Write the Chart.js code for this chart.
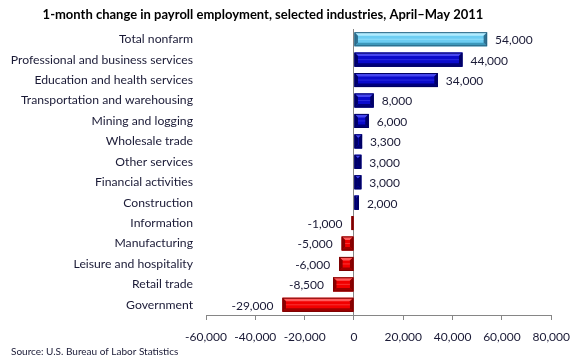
<!DOCTYPE html>
<html>
<head>
<meta charset="utf-8">
<script src="https://cdn.jsdelivr.net/npm/chart.js@4/dist/chart.umd.min.js"></script>
<style>
  html, body { margin: 0; padding: 0; background: #ffffff; }
  #wrap { width: 580px; height: 360px; position: relative; }
</style>
</head>
<body>
<div id="wrap"><canvas id="c" width="580" height="360"></canvas></div>
<script>
// ---- Data ----
const categories = [
  "Total nonfarm",
  "Professional and business services",
  "Education and health services",
  "Transportation and warehousing",
  "Mining and logging",
  "Wholesale trade",
  "Other services",
  "Financial activities",
  "Construction",
  "Information",
  "Manufacturing",
  "Leisure and hospitality",
  "Retail trade",
  "Government"
];
const changes = [54000, 44000, 34000, 8000, 6000, 3300, 3000, 3000, 2000, -1000, -5000, -6000, -8500, -29000];
const xTickValues = [-60000, -40000, -20000, 0, 20000, 40000, 60000, 80000];
const titleText = "1-month change in payroll employment, selected industries, April\u2013May 2011";
const sourceText = "Source: U.S. Bureau of Labor Statistics";

// ---- Styles ----
const FONT = "Lato, 'Liberation Sans', sans-serif";
const TEXT = "#1a1a36";
const AXIS = "#868686";
const palettes = {
  total: { main: "#6ccdf2", top: "#b2ecff", bottom: "#3b98bb", end: "#2e7192", line: "#2a6482" },
  pos:   { main: "#0b0bcc", top: "#4747ee", bottom: "#00007c", end: "#00006a", line: "#000060" },
  neg:   { main: "#f20000", top: "#ff5c5c", bottom: "#a00000", end: "#8a0000", line: "#7a0000" }
};
function paletteFor(i) {
  if (i === 0) return palettes.total;
  return changes[i] >= 0 ? palettes.pos : palettes.neg;
}
const fmt = v => Number(v).toLocaleString("en-US");

// Bevel decoration drawn over each bar using the bar element geometry
const bevelPlugin = {
  id: "bevel",
  afterDatasetsDraw(chart) {
    const ctx = chart.ctx;
    const meta = chart.getDatasetMeta(0);
    meta.data.forEach((el, i) => {
      const p = paletteFor(i);
      const l = Math.min(el.x, el.base), r = Math.max(el.x, el.base);
      const t = el.y - el.height / 2, b = el.y + el.height / 2;
      const bw = Math.min(3.5, (r - l) / 2, (b - t) / 2);
      const poly = (pts, col) => {
        ctx.beginPath();
        ctx.moveTo(pts[0][0], pts[0][1]);
        for (let k = 1; k < pts.length; k++) ctx.lineTo(pts[k][0], pts[k][1]);
        ctx.closePath();
        ctx.fillStyle = col;
        ctx.fill();
      };
      ctx.save();
      poly([[l, t], [r, t], [r - bw, t + bw], [l + bw, t + bw]], p.top);
      poly([[l, b], [r, b], [r - bw, b - bw], [l + bw, b - bw]], p.bottom);
      poly([[l, t], [l + bw, t + bw], [l + bw, b - bw], [l, b]], p.end);
      poly([[r, t], [r - bw, t + bw], [r - bw, b - bw], [r, b]], p.end);
      if (r - l > 2 * bw + 2) {
        ctx.fillStyle = p.top;
        ctx.globalAlpha = 0.55;
        ctx.fillRect(l + bw, el.y - 0.5, r - l - 2 * bw, 1);
        ctx.globalAlpha = 1;
      }
      ctx.strokeStyle = p.line;
      ctx.lineWidth = 1;
      ctx.strokeRect(l + 0.5, t + 0.5, r - l - 1, b - t - 1);
      ctx.restore();
    });
  }
};

// Value labels beside each bar
const valueLabelPlugin = {
  id: "valueLabels",
  afterDatasetsDraw(chart) {
    const ctx = chart.ctx;
    const meta = chart.getDatasetMeta(0);
    ctx.save();
    ctx.font = "12px " + FONT;
    ctx.fillStyle = TEXT;
    ctx.textBaseline = "middle";
    meta.data.forEach((el, i) => {
      const v = changes[i];
      if (v >= 0) {
        ctx.textAlign = "left";
        ctx.fillText(fmt(v), el.x + 8, el.y + 1);
      } else {
        ctx.textAlign = "right";
        ctx.fillText(fmt(v), el.x - 9, el.y + 1);
      }
    });
    ctx.restore();
  }
};

// Title and source text
const textPlugin = {
  id: "texts",
  afterDraw(chart) {
    const ctx = chart.ctx;
    ctx.save();
    ctx.fillStyle = "#000000";
    ctx.font = "bold 13px " + FONT;
    ctx.textAlign = "center";
    ctx.textBaseline = "middle";
    ctx.fillText(titleText, 263, 15);
    ctx.font = "10px " + FONT;
    ctx.fillStyle = TEXT;
    ctx.textAlign = "left";
    ctx.fillText(sourceText, 11, 352);
    ctx.restore();
  }
};

new Chart(document.getElementById("c"), {
  type: "bar",
  data: {
    labels: categories,
    datasets: [{
      data: changes,
      backgroundColor: changes.map((v, i) => paletteFor(i).main),
      borderWidth: 0,
      categoryPercentage: 1.0,
      barPercentage: 0.69
    }]
  },
  options: {
    indexAxis: "y",
    responsive: false,
    animation: false,
    devicePixelRatio: 1,
    layout: { padding: { top: 29, right: 24, bottom: 0, left: 0 } },
    plugins: {
      legend: { display: false },
      title: { display: false },
      tooltip: { enabled: false }
    },
    scales: {
      x: {
        type: "linear",
        min: xTickValues[0],
        max: xTickValues[xTickValues.length - 1],
        afterBuildTicks(scale) { scale.ticks = xTickValues.map(v => ({ value: v })); },
        afterFit(scale) { scale.height = 45; },
        border: { display: true, color: AXIS, width: 1 },
        grid: {
          display: true,
          drawOnChartArea: true,
          drawTicks: true,
          tickLength: 5,
          tickColor: AXIS,
          color: c => (c.tick && c.tick.value === 0 ? AXIS : "rgba(0,0,0,0)"),
          lineWidth: 1
        },
        ticks: {
          color: TEXT,
          font: { family: FONT, size: 12 },
          padding: 10,
          maxRotation: 0,
          autoSkip: false,
          callback: v => fmt(v)
        }
      },
      y: {
        type: "category",
        afterFit(scale) { scale.width = 206; },
        border: { display: false },
        grid: { display: false, drawTicks: false, tickLength: 0 },
        ticks: {
          color: TEXT,
          font: { family: FONT, size: 12.2 },
          padding: 13,
          autoSkip: false
        }
      }
    }
  },
  plugins: [bevelPlugin, valueLabelPlugin, textPlugin]
});
</script>
</body>
</html>
